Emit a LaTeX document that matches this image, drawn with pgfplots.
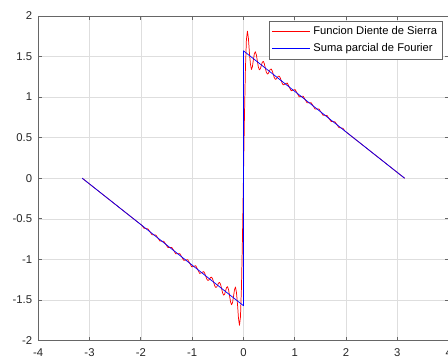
\documentclass[border=0pt]{standalone}
\usepackage{fontspec}
\setmainfont{Liberation Sans}
\usepackage{pgfplots}
\pgfplotsset{compat=1.18}

\begin{document}
\begin{tikzpicture}
\begin{axis}[
  scale only axis,
  width=308.3pt, height=243.75pt,
  xmin=-4, xmax=4, ymin=-2, ymax=2,
  xtick={-4,-3,...,4},
  ytick={-2,-1.5,...,2},
  /pgf/number format/assume math mode=true,
  tick label style={font=\fontsize{8.5}{10}\selectfont, text=black!85},
  yticklabel style={xshift=-1pt},
  xticklabel style={yshift=-2.8pt},
  grid=major,
  major grid style={black!13, line width=0.4pt},
  axis line style={black!60, line width=0.5pt},
  major tick style={black!60, line width=0.5pt},
  major tick length=3pt,
  tick align=inside,
  legend style={
    at={(0.9855,0.985)}, anchor=north east,
    font=\fontsize{8.4}{9.5}\selectfont,
    draw=black!60, fill=white, line width=0.5pt,
    inner xsep=2pt, inner ysep=2pt, row sep=1.4pt,
    cells={anchor=west},
    /tikz/every even column/.append style={column sep=1pt},
  },
  legend image code/.code={\draw[#1, line width=0.6pt] (0cm,0cm) -- (1cm,0cm);},
]
% Fourier partial sum (N = 40) of the sawtooth, with Gibbs overshoot at x = 0
\addplot[draw=red, line width=0.55pt, line join=round] coordinates {
  (-3.14159,0) (-1.97804,-0.5818) (-1.93925,-0.6161) (-1.90047,-0.6205)
  (-1.86168,-0.6246) (-1.82290,-0.6593) (-1.78411,-0.6946) (-1.74533,-0.6981)
  (-1.70654,-0.7011) (-1.66776,-0.7369) (-1.62897,-0.7733) (-1.59019,-0.7757)
  (-1.55140,-0.7775) (-1.51262,-0.8145) (-1.47383,-0.8522) (-1.43505,-0.8533)
  (-1.39626,-0.8535) (-1.35748,-0.8921) (-1.31869,-0.9316) (-1.27991,-0.9308)
  (-1.24112,-0.9290) (-1.20234,-0.9696) (-1.16355,-1.0115) (-1.12477,-1.0084)
  (-1.08598,-1.0039) (-1.04720,-1.0472) (-1.00841,-1.0921) (-0.96963,-1.0860)
  (-0.93084,-1.0779) (-0.89206,-1.1248) (-0.85327,-1.1740) (-0.81449,-1.1636)
  (-0.77570,-1.1503) (-0.75631,-1.1690) (-0.73692,-1.2024) (-0.71752,-1.2369)
  (-0.69813,-1.2578) (-0.67874,-1.2577) (-0.65935,-1.2411) (-0.63996,-1.2231)
  (-0.62057,-1.2201) (-0.60117,-1.2407) (-0.58178,-1.2799) (-0.56239,-1.3211)
  (-0.54300,-1.3453) (-0.52360,-1.3427) (-0.50421,-1.3187) (-0.48481,-1.2920)
  (-0.46542,-1.2846) (-0.44603,-1.3083) (-0.42664,-1.3575) (-0.40724,-1.4104)
  (-0.38785,-1.4401) (-0.36846,-1.4308) (-0.34907,-1.3913) (-0.32967,-1.3492)
  (-0.31028,-1.3371) (-0.29089,-1.3705) (-0.27150,-1.4430) (-0.25210,-1.5209)
  (-0.23271,-1.5585) (-0.21332,-1.5365) (-0.19393,-1.4592) (-0.17453,-1.3738)
  (-0.15514,-1.3406) (-0.13575,-1.4109) (-0.11636,-1.5478) (-0.09696,-1.7235)
  (-0.07757,-1.8131) (-0.05818,-1.7106) (-0.03879,-1.3514) (-0.01939,-0.7493)
  (0,0)
  (0.01939,0.7493) (0.03879,1.3514) (0.05818,1.7106) (0.07757,1.8131)
  (0.09696,1.7235) (0.11636,1.5478) (0.13575,1.4109) (0.15514,1.3406)
  (0.17453,1.3738) (0.19393,1.4592) (0.21332,1.5365) (0.23271,1.5585)
  (0.25210,1.5209) (0.27150,1.4430) (0.29089,1.3705) (0.31028,1.3371)
  (0.32967,1.3492) (0.34907,1.3913) (0.36846,1.4308) (0.38785,1.4401)
  (0.40724,1.4104) (0.42664,1.3575) (0.44603,1.3083) (0.46542,1.2846)
  (0.48481,1.2920) (0.50421,1.3187) (0.52360,1.3427) (0.54300,1.3453)
  (0.56239,1.3211) (0.58178,1.2799) (0.60117,1.2407) (0.62057,1.2201)
  (0.63996,1.2231) (0.65935,1.2411) (0.67874,1.2577) (0.69813,1.2578)
  (0.71752,1.2369) (0.73692,1.2024) (0.75631,1.1690) (0.77570,1.1503)
  (0.81449,1.1636) (0.85327,1.1740) (0.89206,1.1248) (0.93084,1.0779)
  (0.96963,1.0860) (1.00841,1.0921) (1.04720,1.0472) (1.08598,1.0039)
  (1.12477,1.0084) (1.16355,1.0115) (1.20234,0.9696) (1.24112,0.9290)
  (1.27991,0.9308) (1.31869,0.9316) (1.35748,0.8921) (1.39626,0.8535)
  (1.43505,0.8533) (1.47383,0.8522) (1.51262,0.8145) (1.55140,0.7775)
  (1.59019,0.7757) (1.62897,0.7733) (1.66776,0.7369) (1.70654,0.7011)
  (1.74533,0.6981) (1.78411,0.6946) (1.82290,0.6593) (1.86168,0.6246)
  (1.90047,0.6205) (1.93925,0.6161) (1.97804,0.5818) (3.14159,0)
};
\addlegendentry{Funcion Diente de Sierra}
% sawtooth: -(pi+x)/2 on (-pi,0), (pi-x)/2 on (0,pi)
\addplot[draw=blue, line width=0.55pt, line join=round] coordinates {
  (-3.14159,0) (0,-1.5708) (0,1.5708) (3.14159,0)
};
\addlegendentry{Suma parcial de Fourier}
\end{axis}
\pgfresetboundingbox
\path ([xshift=-28.7pt,yshift=-14.25pt]current axis.south west)
  rectangle ([xshift=-0.5pt,yshift=12pt]current axis.north east);
\end{tikzpicture}
\end{document}
